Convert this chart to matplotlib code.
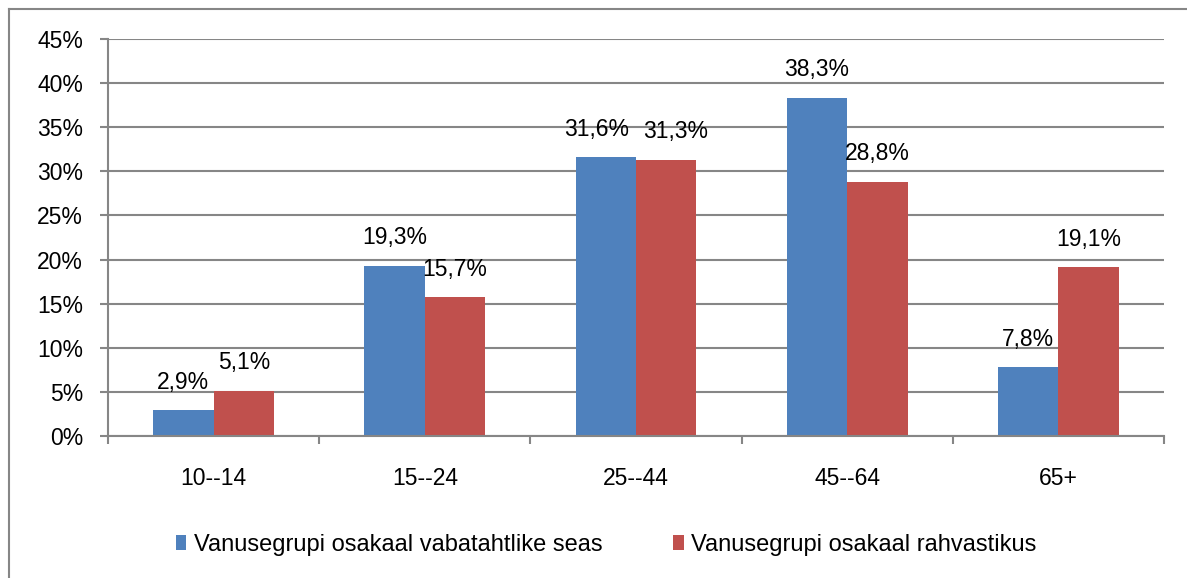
import matplotlib.pyplot as plt
import numpy as np
from matplotlib.lines import Line2D

plt.rcParams["font.family"] = ["Liberation Sans", "DejaVu Sans"]

CATEGORIES = ["10--14", "15--24", "25--44", "45--64", "65+"]
VOLUNTEERS = [2.9, 19.3, 31.6, 38.3, 7.8]
POPULATION = [5.1, 15.7, 31.3, 28.8, 19.1]
SERIES_NAMES = [
    "Vanusegrupi osakaal vabatahtlike seas",
    "Vanusegrupi osakaal rahvastikus",
]
Y_TICKS = [0, 5, 10, 15, 20, 25, 30, 35, 40, 45]

BLUE = "#4f81bd"
RED = "#c0504d"
GRID = "#868686"

W, H = 1187, 578
FS = 16.5


def fmt(v):
    return f"{v:.1f}%".replace(".", ",")


def main():
    fig = plt.figure(figsize=(W / 100, H / 100), dpi=100)
    ax = fig.add_axes([108 / W, 1 - 436 / H, (1164 - 108) / W, (436 - 39) / H])

    x = np.arange(len(CATEGORIES))
    width = 1 / 3.5
    b1 = ax.bar(x - width / 2, VOLUNTEERS, width, color=BLUE, label=SERIES_NAMES[0], zorder=3)
    b2 = ax.bar(x + width / 2, POPULATION, width, color=RED, label=SERIES_NAMES[1], zorder=3)

    # labels above bars; the 25--44 pair is pushed apart like Excel does
    for bars, vals, side in [(b1, VOLUNTEERS, -1), (b2, POPULATION, 1)]:
        for i, (rect, v) in enumerate(zip(bars, vals)):
            dx = 7 * side if CATEGORIES[i] == "25--44" else 0
            ax.annotate(fmt(v), (rect.get_x() + rect.get_width() / 2, v),
                        xytext=(dx, 12), textcoords="offset points",
                        ha="center", va="bottom", fontsize=FS)

    ax.set_xlim(-0.5, len(CATEGORIES) - 0.5)
    ax.set_ylim(0, 45)
    ax.set_yticks(Y_TICKS)
    ax.set_yticklabels([f"{t}%" for t in Y_TICKS], fontsize=FS)
    ax.set_xticks(x)
    ax.set_xticklabels(CATEGORIES, fontsize=FS)
    ax.tick_params(axis="x", length=0, pad=22)
    ax.set_xticks(np.arange(-0.5, len(CATEGORIES)), minor=True)
    ax.tick_params(axis="x", which="minor", length=6, width=1.5, color=GRID)
    ax.tick_params(axis="y", length=6, width=1.5, color=GRID, pad=12)

    ax.grid(axis="y", color=GRID, linewidth=1.5, zorder=0)
    for side in ["top", "right"]:
        ax.spines[side].set_visible(False)
    for side in ["left", "bottom"]:
        ax.spines[side].set_color(GRID)
        ax.spines[side].set_linewidth(1.5)
        ax.spines[side].set_zorder(4)

    fig.legend(
        loc="center",
        bbox_to_anchor=(606 / W, 1 - 545 / H),
        ncol=2,
        frameon=False,
        fontsize=17,
        handlelength=0.45,
        handleheight=0.6,
        handletextpad=0.3,
        columnspacing=3.0,
    )

    # outer chart border (top and left edges visible)
    fig.add_artist(Line2D([9 / W, 1], [1 - 9 / H, 1 - 9 / H], color=GRID, linewidth=1.5))
    fig.add_artist(Line2D([9 / W, 9 / W], [0, 1 - 9 / H], color=GRID, linewidth=1.5))

    fig.savefig("out.png", dpi=100)
    plt.close(fig)


if __name__ == "__main__":
    main()
